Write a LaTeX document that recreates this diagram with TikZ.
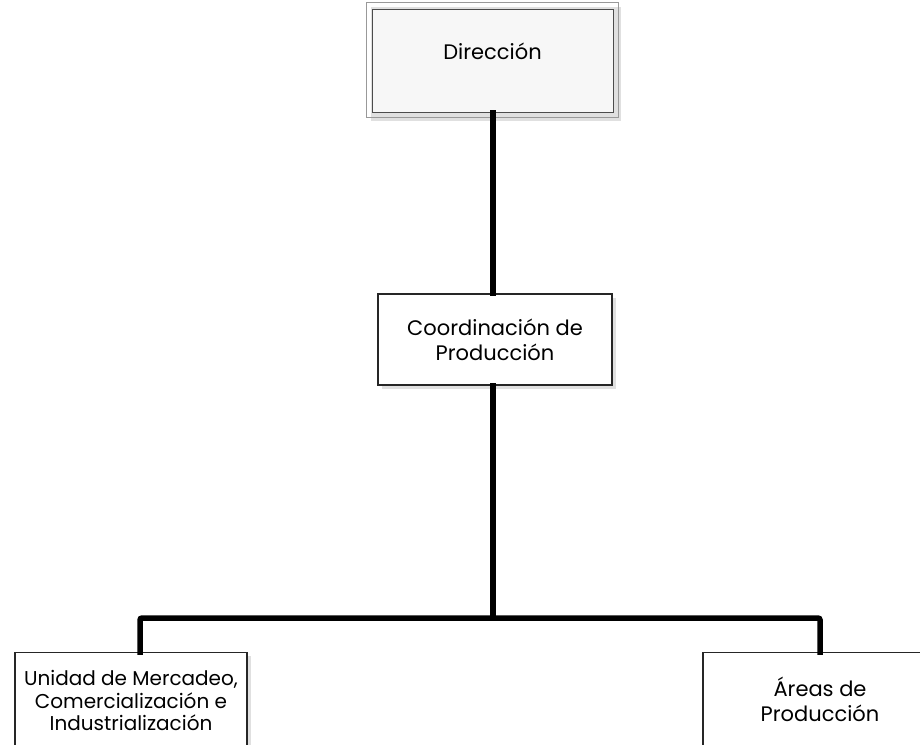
\documentclass[tikz,border=0pt]{standalone}
\usepackage{fontspec}
\setmainfont{Poppins}
\begin{document}
\begin{tikzpicture}[x=1pt,y=-1pt,
  box/.style={draw=black!85, line width=1.3pt, fill=white, align=center, inner sep=0pt,
    font=\fontsize{21}{25}\selectfont},
  conn/.style={line width=5.5pt, rounded corners=2pt, line cap=rect}]
\useasboundingbox (0,0) rectangle (920,744);
\clip (0,0) rectangle (920,744);
% shadows
\fill[black!12] (371,7) rectangle (621,121);
\fill[black!12] (382,298) rectangle (616,389);
\fill[black!12] (19,656) rectangle (251,760);
\fill[black!12] (707,656) rectangle (940,760);
% nodes
\node[box, fill=black!3, draw=black!70, line width=1pt, minimum width=241pt, minimum height=103pt] (dir) at (492.5,60.5) {\raisebox{19pt}{Dirección}};
\draw[black!40, line width=1pt] ([shift={(-5,5)}]dir.south west) rectangle ([shift={(5,-6)}]dir.north east);
\node[box, minimum width=234pt, minimum height=91pt] (coord) at (495,339.5) {Coordinación de\\Producción};
\node[box, font=\fontsize{20}{22.5}\selectfont, minimum width=232pt, minimum height=96pt, anchor=north] (uni) at (131,652) {Unidad de Mercadeo,\\Comercialización e\\Industrialización};
\node[box, minimum width=234pt, minimum height=94pt, anchor=north] (are) at (820,652) {Áreas de\\Producción};
% connectors
\coordinate (bus) at (493,618);
\draw[conn] (dir.south -| bus) -- (coord.north -| bus);
\draw[conn] (coord.south -| bus) -- (bus);
\draw[conn] ([xshift=9pt]uni.north) |- (bus) -| (are.north);
\end{tikzpicture}
\end{document}
